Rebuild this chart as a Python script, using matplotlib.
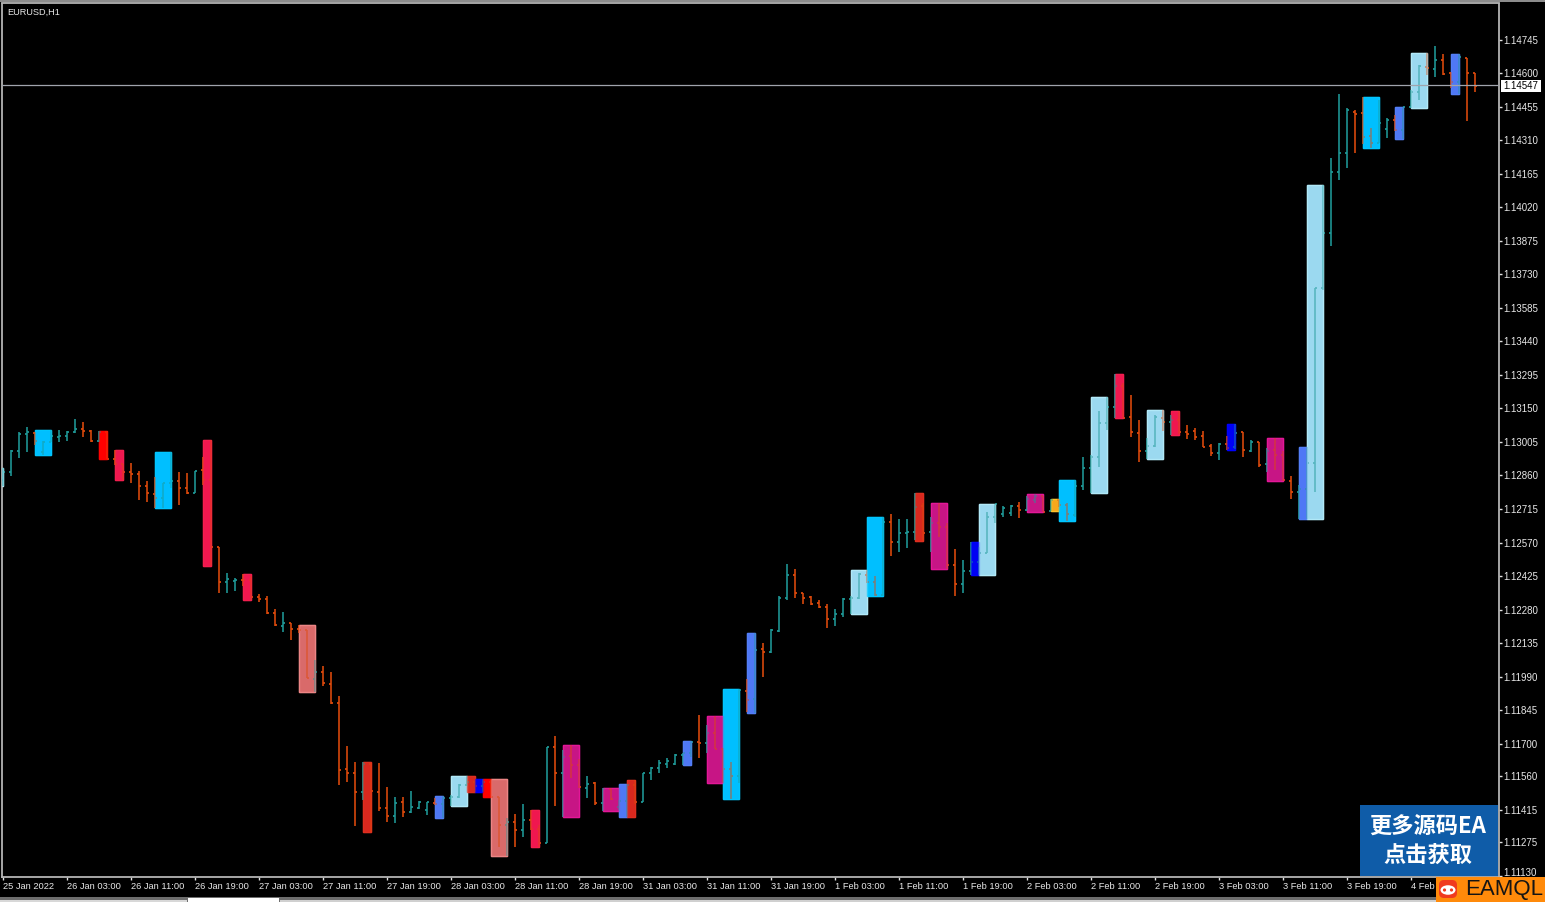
import numpy as np
import matplotlib
matplotlib.use("Agg")
import matplotlib.pyplot as plt
from matplotlib.collections import LineCollection
from matplotlib.patches import Rectangle, FancyBboxPatch, Ellipse, Circle

SYMBOL = "EURUSD,H1"
LAST_PRICE = 1.14547

# Hourly OHLC in points (1e-5)
opens_pts = [
112840,112875,112966,113040,113044,112961,113004,113027,113031,113048,113061,113053,113009,113048,112931,112910,112875,112867,112814,112780,
112762,112827,112836,112805,112784,112884,112840,112551,112399,112404,112408,112408,112335,112326,112265,112209,112222,112196,112192,111980,
112010,111959,111876,111591,111574,111491,111613,111491,111422,111387,111448,111405,111422,111414,111444,111440,111466,111470,111521,111534,
111517,111534,111470,111348,111361,111327,111370,111331,111271,111686,111574,111647,111608,111509,111530,111444,111504,111427,111453,111521,
111448,111574,111595,111613,111613,111651,111660,111707,111703,111746,111677,111591,111560,111928,111893,112109,112096,112188,112330,112430,
112352,112335,112309,112291,112239,112261,112326,112330,112430,112399,112343,112659,112572,112611,112615,112728,112615,112655,112637,112473,
112391,112447,112486,112525,112681,112694,112698,112728,112711,112754,112771,112707,112754,112732,112689,112814,112892,112940,113087,113156,
113247,113113,113044,112966,112987,113109,113091,113100,113048,113053,113031,112987,112957,112996,112983,113048,112966,113004,112910,112970,
112948,112836,112788,112801,112914,113671,113909,114172,114254,114432,114427,114328,114298,114358,114397,114354,114453,114518,114626,114618,
114657,114600,114561,114665,114600]
highs_pts = [
112892,112970,113048,113070,113048,113009,113057,113057,113053,113105,113091,113057,113053,113053,112970,112910,112914,112880,112836,112854,
112827,112961,112875,112871,112880,112940,113013,112551,112438,112417,112434,112425,112348,112339,112283,112270,112222,112213,112192,112062,
112036,112010,111906,111690,111621,111621,111617,111617,111513,111470,111470,111496,111453,111448,111466,111474,111479,111526,111560,111547,
111547,111547,111470,111379,111396,111440,111414,111348,111686,111733,111673,111694,111634,111560,111534,111509,111509,111457,111526,111543,
111574,111600,111630,111638,111656,111660,111712,111824,111781,111820,111682,111621,111937,111980,112179,112136,112196,112339,112478,112456,
112352,112339,112322,112304,112283,112330,112339,112438,112451,112425,112681,112694,112672,112672,112784,112741,112681,112741,112655,112542,
112495,112572,112551,112702,112737,112728,112732,112745,112771,112780,112771,112758,112758,112741,112840,112940,112948,113139,113199,113299,
113260,113208,113100,113022,113122,113143,113122,113139,113078,113065,113053,112996,113000,113031,113083,113048,113013,113004,112979,113022,
112966,112858,112819,112983,113671,114116,114233,114510,114449,114440,114497,114363,114484,114406,114419,114453,114527,114635,114687,114717,
114682,114605,114682,114665,114600]
lows_pts = [
112814,112858,112936,112961,112992,112948,113004,113004,113009,113044,113027,113004,113004,112931,112906,112840,112827,112754,112745,112719,
112719,112805,112732,112780,112784,112819,112469,112352,112352,112361,112382,112322,112313,112261,112209,112183,112149,112179,111984,111923,
111949,111872,111521,111534,111344,111457,111318,111409,111361,111357,111383,111401,111418,111392,111435,111379,111431,111466,111517,111491,
111491,111470,111254,111215,111254,111297,111327,111254,111271,111431,111383,111552,111509,111466,111435,111409,111457,111414,111383,111440,
111448,111543,111574,111595,111608,111608,111643,111638,111660,111677,111530,111461,111530,111837,111833,111989,112092,112183,112322,112330,
112304,112300,112287,112200,112209,112248,112261,112326,112395,112339,112339,112512,112529,112546,112581,112577,112529,112594,112456,112339,
112352,112430,112430,112525,112655,112681,112685,112676,112707,112741,112702,112707,112724,112663,112681,112797,112784,112897,113057,113109,
113109,113027,112919,112931,112983,113053,113035,113040,113018,113013,112983,112944,112927,112970,112974,112940,112961,112897,112875,112884,
112836,112758,112672,112672,112788,113662,113852,114138,114190,114254,114293,114276,114298,114319,114350,114315,114449,114484,114592,114583,
114592,114535,114510,114393,114518]
closes_pts = [
112875,112966,113040,113048,113009,113004,113031,113031,113048,113061,113053,113009,113048,112931,112910,112875,112867,112814,112784,112762,
112827,112836,112805,112784,112880,112840,112551,112399,112412,112408,112408,112335,112326,112265,112213,112222,112196,112192,111984,112010,
111963,111876,111587,111574,111491,111613,111496,111422,111387,111444,111405,111427,111448,111448,111440,111466,111470,111521,111534,111517,
111534,111470,111348,111361,111327,111370,111331,111271,111686,111574,111643,111608,111513,111526,111444,111504,111461,111453,111521,111448,
111574,111595,111617,111625,111651,111660,111707,111703,111746,111677,111591,111560,111932,111889,112105,112096,112192,112330,112430,112352,
112330,112304,112291,112239,112261,112326,112330,112434,112399,112343,112659,112572,112611,112615,112724,112611,112655,112637,112473,112391,
112447,112486,112525,112681,112737,112719,112728,112711,112758,112771,112702,112754,112732,112694,112814,112892,112940,113087,113156,113247,
113109,113048,112966,112987,113113,113091,113100,113048,113040,113027,112983,112957,112996,112979,113044,112970,113004,112906,112966,112948,
112840,112788,112801,112914,113671,113909,114172,114254,114440,114423,114324,114298,114384,114397,114354,114453,114518,114631,114622,114657,
114596,114561,114670,114600,114544]

# Pattern boxes: first bar, last bar, colour group
box_first = [0,4,12,14,19,25,30,37,45,54,56,58,59,60,61,66,70,75,77,78,85,88,90,93,106,108,114,116,121,122,128,131,132,136,139,143,146,153,158,162,163,170,174,176,181]
box_last  = [0,6,13,15,21,26,31,39,46,55,58,59,60,61,63,67,72,77,78,79,86,90,92,94,108,110,115,118,122,124,130,132,134,138,140,145,147,154,160,163,165,172,175,178,182]
box_kind  = ["light","cyan","red","crimson","cyan","crimson","crimson","salmon","brick","royal","light","brick","blue","red","salmon",
             "crimson","magenta","magenta","royal","brick","royal","magenta","cyan","royal","light","cyan","brick","magenta","blue","light",
             "magenta","gold","cyan","light","crimson","light","crimson","blue","magenta","royal","light","cyan","royal","light","royal"]
box_fill = {"light":"#9BD9F0","cyan":"#00BFFF","red":"#FF0000","crimson":"#F0174F","salmon":"#D96A6A","brick":"#D9281E",
            "royal":"#4F78F5","blue":"#0000F5","magenta":"#C71585","gold":"#F7A81B"}
box_edge = {"light":"#B5ECFA","cyan":"#00C8FF","red":"#FF0000","crimson":"#F5204F","salmon":"#F08A8A","brick":"#E03020",
            "royal":"#5580F8","blue":"#0000FF","magenta":"#E8189A","gold":"#FFC830"}

price_ticks = [1.14745,1.14600,1.14455,1.14310,1.14165,1.14020,1.13875,1.13730,1.13585,1.13440,1.13295,1.13150,1.13005,
               1.12860,1.12715,1.12570,1.12425,1.12280,1.12135,1.11990,1.11845,1.11700,1.11560,1.11415,1.11275,1.11130]
time_tick_bars = list(range(0,184,8))
time_labels = ["25 Jan 2022","26 Jan 03:00","26 Jan 11:00","26 Jan 19:00","27 Jan 03:00","27 Jan 11:00","27 Jan 19:00",
               "28 Jan 03:00","28 Jan 11:00","28 Jan 19:00","31 Jan 03:00","31 Jan 11:00","31 Jan 19:00","1 Feb 03:00",
               "1 Feb 11:00","1 Feb 19:00","2 Feb 03:00","2 Feb 11:00","2 Feb 19:00","3 Feb 03:00","3 Feb 11:00","3 Feb 19:00","4 Feb 03:00"]

UP, DOWN = "#1F9A98", "#E04A0C"
AXIS = "#B4B4B4"
W, H = 1545, 902
plt.rcParams["font.family"] = ["Liberation Sans", "DejaVu Sans"]

o, h, l, c = [np.array(a) / 1e5 for a in (opens_pts, highs_pts, lows_pts, closes_pts)]
idx = np.arange(len(o))

fig = plt.figure(figsize=(W/100, H/100), dpi=100, facecolor="black")
ax = fig.add_axes([2/W, 1-876.5/H, (1498.5-2)/W, (876.5-3.5)/H], facecolor="black")
ax.set_xlim(-0.125, 186.94)
ax.set_ylim(1.11126, 1.14901)

# boxes from the high/low of the bars they enclose; a veil of the same colour
# goes over the bars so they show only faintly inside a box
for s, e, k in zip(box_first, box_last, box_kind):
    top, bot = h[s:e+1].max(), l[s:e+1].min()
    left = s - 1 if s == e else s
    ax.add_patch(Rectangle((left, bot), e-left, top-bot, facecolor=box_fill[k], edgecolor=box_edge[k], lw=1.0, zorder=2))
    ax.add_patch(Rectangle((left, bot), e-left, top-bot, facecolor=box_fill[k], edgecolor=box_edge[k], lw=1.0, alpha=0.45, zorder=3.5))

# bars: stem, open tick left, close tick right
colors = [UP if cc > oo else DOWN for oo, cc in zip(o, c)]
stems = [[(i, ll), (i, hh)] for i, ll, hh in zip(idx, l, h)]
otick = [[(i-0.3, oo), (i, oo)] for i, oo in zip(idx, o)]
ctick = [[(i, cc), (i+0.3, cc)] for i, cc in zip(idx, c)]
for segs, lw in ((stems, 1.15), (otick, 1.25), (ctick, 1.25)):
    ax.add_collection(LineCollection(segs, colors=colors, linewidths=lw, zorder=3, capstyle="butt"))

ax.axhline(LAST_PRICE, color="#A0A4AC", lw=0.9, zorder=4)

for s in ("left", "right", "top", "bottom"):
    ax.spines[s].set_color(AXIS)
    ax.spines[s].set_linewidth(1.3)
ax.yaxis.tick_right()
ax.set_yticks(price_ticks)
ax.set_yticklabels([f"{p:.5f}" for p in price_ticks])
ax.tick_params(axis="y", length=2.2, width=1.0, color="#E0E0E0", labelcolor="#E8E8E8", labelsize=7, pad=1.0)
ax.get_yticklabels()[-1].set_va("baseline")
ax.set_xticks(time_tick_bars)
ax.set_xticklabels(time_labels, ha="left")
ax.tick_params(axis="x", length=2.2, width=1.0, color="#E0E0E0", labelcolor="#E8E8E8", labelsize=6.7, pad=1.8)
ax.text(0.0035, 0.9945, SYMBOL, transform=ax.transAxes, color="#E8E8E8", fontsize=6.6, va="top", ha="left", zorder=5)

# window furniture in pixel space
ov = fig.add_axes([0, 0, 1, 1], facecolor="none", zorder=10)
ov.set_xlim(0, W); ov.set_ylim(H, 0); ov.axis("off")
ov.add_patch(Rectangle((0, 0), W, 1.5, color="#8C8C8C", lw=0))
ov.add_patch(Rectangle((0, 897), W, 5, color="#6E6E6E", lw=0))
ov.add_patch(Rectangle((0, 899.5), 187, 3, color="#D8D8D8", lw=0))
ov.add_patch(Rectangle((188, 898), 91, 4, color="#FFFFFF", lw=0))
ov.add_patch(Rectangle((280, 899.5), W-280, 3, color="#D0D0D0", lw=0))
# current price tag
ov.add_patch(Rectangle((1501, 80), 40, 11.5, color="white", lw=0))
ov.text(1503.5, 86, f"{LAST_PRICE:.5f}", color="black", fontsize=7, va="center", ha="left")
# promo banner
ov.add_patch(Rectangle((1360, 805), 138, 71, color="#0F5CA8", lw=0))
cjk = ["Noto Sans CJK SC", "DejaVu Sans"]
ov.text(1428, 826, "更多源码EA", color="white", fontsize=16, fontweight="bold", family=cjk, ha="center", va="center")
ov.text(1428, 855, "点击获取", color="white", fontsize=16, fontweight="bold", family=cjk, ha="center", va="center")
# logo
ov.add_patch(Rectangle((1436, 876.5), W-1436, H-876.5, color="#FF8A0A", lw=0))
ov.add_patch(FancyBboxPatch((1439, 880), 18, 18, boxstyle="round,pad=0,rounding_size=5", color="#F03A1E", lw=0))
ov.add_patch(Ellipse((1448, 890), 15, 9.5, color="white", lw=0))
ov.add_patch(Circle((1444.5, 890), 1.6, color="#F03A1E", lw=0))
ov.add_patch(Circle((1451.5, 890), 1.6, color="#F03A1E", lw=0))
ov.text(1504, 889.5, "EAMQL", color="#141414", fontsize=16, ha="center", va="center")

fig.savefig("out.png", dpi=100, facecolor="black")
